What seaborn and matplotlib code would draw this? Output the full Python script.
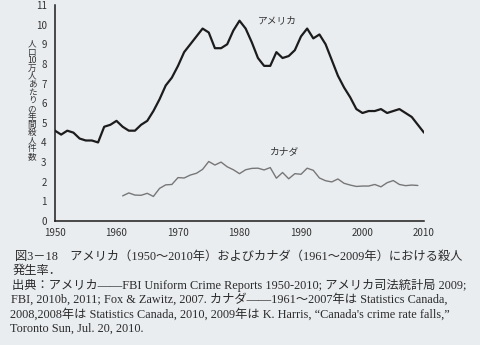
import matplotlib
matplotlib.use("Agg")
import matplotlib.pyplot as plt
import seaborn as sns
import pandas as pd

# Homicides per 100,000 population
us_years = list(range(1950, 2011))
us_rate = [4.6, 4.4, 4.6, 4.5, 4.2, 4.1, 4.1, 4.0, 4.8, 4.9,
           5.1, 4.8, 4.6, 4.6, 4.9, 5.1, 5.6, 6.2, 6.9, 7.3,
           7.9, 8.6, 9.0, 9.4, 9.8, 9.6, 8.8, 8.8, 9.0, 9.7,
           10.2, 9.8, 9.1, 8.3, 7.9, 7.9, 8.6, 8.3, 8.4, 8.7,
           9.4, 9.8, 9.3, 9.5, 9.0, 8.2, 7.4, 6.8, 6.3, 5.7,
           5.5, 5.6, 5.6, 5.7, 5.5, 5.6, 5.7, 5.5, 5.3, 4.9,
           4.5]

ca_years = list(range(1961, 2010))
ca_rate = [1.28, 1.43, 1.32, 1.31, 1.41, 1.25, 1.66, 1.84, 1.86, 2.21,
           2.19, 2.34, 2.43, 2.63, 3.03, 2.85, 3.00, 2.76, 2.61, 2.41,
           2.61, 2.68, 2.69, 2.60, 2.72, 2.18, 2.47, 2.15, 2.41, 2.38,
           2.69, 2.58, 2.19, 2.05, 1.99, 2.14, 1.92, 1.83, 1.76, 1.78,
           1.78, 1.86, 1.74, 1.95, 2.06, 1.86, 1.80, 1.83, 1.81]

x_ticks = [1950, 1960, 1970, 1980, 1990, 2000, 2010]
y_ticks = list(range(0, 12))

y_label_chars = ["人", "口", "10", "万", "人", "あ", "た", "り", "の",
                 "年", "間", "殺", "人", "件", "数"]

caption_lines = [
    "図3－18　アメリカ（1950～2010年）およびカナダ（1961～2009年）における殺人",
    "発生率．",
    "出典：アメリカ――FBI Uniform Crime Reports 1950-2010; アメリカ司法統計局 2009;",
    "FBI, 2010b, 2011; Fox & Zawitz, 2007. カナダ――1961～2007年は Statistics Canada,",
    "2008,2008年は Statistics Canada, 2010, 2009年は K. Harris, \u201cCanada's crime rate falls,\u201d",
    "Toronto Sun, Jul. 20, 2010.",
]

sns.set_style("white")
plt.rcParams["font.family"] = ["Noto Sans CJK JP", "DejaVu Sans"]

paper = "#eaedf0"
ink = "#1c1c1c"

fig = plt.figure(figsize=(4.8, 3.45), dpi=100, facecolor=paper)
ax = fig.add_axes([55 / 480, 1 - 221 / 345, 369 / 480, 216 / 345])
ax.set_facecolor(paper)

us = pd.DataFrame({"year": us_years, "rate": us_rate})
ca = pd.DataFrame({"year": ca_years, "rate": ca_rate})
sns.lineplot(data=us, x="year", y="rate", ax=ax, color=ink, linewidth=1.6)
sns.lineplot(data=ca, x="year", y="rate", ax=ax, color="#777777", linewidth=1.0)

ax.set_xlim(1950, 2010)
ax.set_ylim(0, 11)
ax.set_xticks(x_ticks)
ax.set_yticks(y_ticks)
ax.set_xticklabels([str(v) for v in x_ticks])
ax.set_yticklabels([str(v) for v in y_ticks])
ax.tick_params(axis="both", direction="in", length=4, width=0.9, color=ink,
               labelsize=7, labelcolor="#333333")
ax.tick_params(axis="y", pad=6)
ax.tick_params(axis="x", pad=5)
ax.set_xlabel("")
ax.set_ylabel("")
for side in ["top", "right"]:
    ax.spines[side].set_visible(False)
for side in ["left", "bottom"]:
    ax.spines[side].set_color(ink)
    ax.spines[side].set_linewidth(1.1)

ax.text(1983, 10.2, "アメリカ", fontsize=7, color="#333333", ha="left", va="center")
ax.text(1985, 3.5, "カナダ", fontsize=7, color="#333333", ha="left", va="center")

# vertical axis title, one character per row
top_px, bottom_px = 44, 157
step = (bottom_px - top_px) / (len(y_label_chars) - 1)
for i, ch in enumerate(y_label_chars):
    fig.text(32 / 480, 1 - (top_px + i * step) / 345, ch, fontsize=6.2,
             ha="center", va="center", color="#333333")

cap_y = [257, 271, 285, 299, 314, 329]
cap_x = [15, 13, 12, 11, 10, 10]
for txt, yy, xx in zip(caption_lines, cap_y, cap_x):
    fig.text(xx / 480, 1 - yy / 345, txt, fontsize=8.8, ha="left", va="center",
             color="#2a2a2a", family=["Liberation Serif", "Noto Sans CJK JP"])

fig.savefig("out.png", dpi=100, facecolor=paper)
